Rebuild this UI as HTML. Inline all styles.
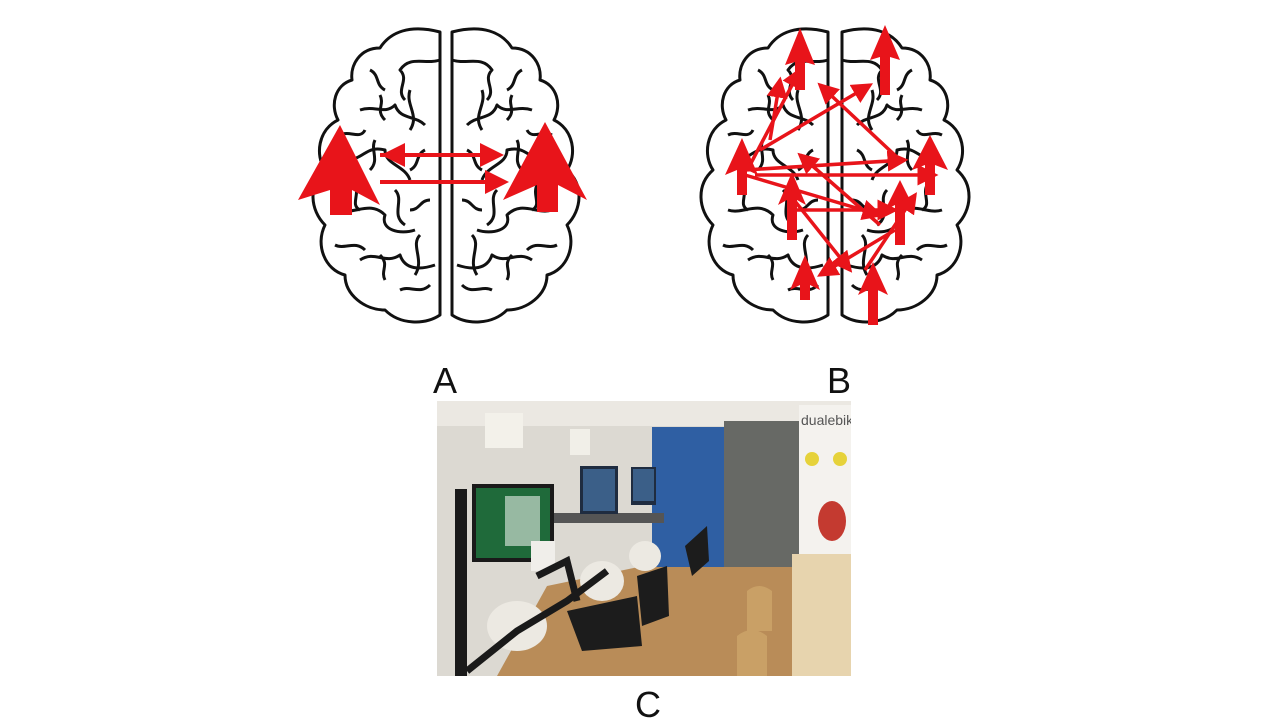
<!DOCTYPE html>
<html><head><style>
body{margin:0;background:#fff;width:1280px;height:720px;overflow:hidden;position:relative;font-family:"Liberation Sans",sans-serif}
.l{position:absolute;font-size:36px;color:#111}
</style></head><body>
<svg width="1280" height="720" style="position:absolute;left:0;top:0">
<defs>
<g id="hemi" fill="#fff" stroke="#111" stroke-width="3" stroke-linejoin="round">
<path d="M140,12 C110,4 90,12 80,28 C60,28 50,45 52,60 C35,65 30,85 38,100 C18,110 15,135 25,150 C8,165 10,190 25,205 C15,225 25,250 45,255 C45,275 65,290 85,290 C100,305 125,305 140,295 Z"/>
<path d="M140,40 c-15,5 -30,-5 -40,10 c10,10 -5,20 5,30 M60,90 c15,-5 25,5 35,-5 c5,15 20,10 30,20 M45,140 c20,0 20,-15 40,-10 c0,15 20,15 25,30 M40,190 c15,5 30,-10 45,5 c-5,15 15,20 30,15 M60,240 c15,-10 25,5 40,-5 c5,15 20,15 35,10 M110,70 c-5,15 10,25 0,40 M95,170 c10,10 -5,25 10,35 M120,215 c-10,10 5,25 -5,40 M75,120 c-5,10 5,20 -5,30 M100,270 c10,-5 20,5 30,-5 M70,50 c10,5 5,15 15,20 M40,115 c10,-5 20,5 25,-5 M55,165 c5,10 -5,20 5,25 M35,225 c10,5 20,-5 30,5 M85,260 c-5,-10 5,-15 -5,-25 M125,130 c-10,5 -5,15 -15,20 M130,180 c-10,0 -10,10 -20,10 M80,75 c5,10 -5,15 5,25" fill="none"/>
</g>
<marker id="ah" markerWidth="6" markerHeight="6" refX="5" refY="3" orient="auto"><path d="M0,0 L6,3 L0,6 Z" fill="#e8141a"/></marker>
<clipPath id="pc"><rect width="414" height="275"/></clipPath>
</defs>
<g transform="translate(300,20)"><use href="#hemi"/></g>
<g transform="translate(592,20) scale(-1,1)"><use href="#hemi"/></g>
<g transform="translate(688,20)"><use href="#hemi"/></g>
<g transform="translate(982,20) scale(-1,1)"><use href="#hemi"/></g>
<g fill="#e8141a">
<polygon points="298,200 340,125 380,205 352,190 352,215 330,215 330,190"/>
<polygon points="503,200 545,122 587,200 558,185 558,212 537,212 537,185"/>
</g>
<g stroke="#e8141a" stroke-width="4" fill="none" marker-end="url(#ah)">
<line x1="500" y1="155" x2="385" y2="155"/>
<line x1="380" y1="182" x2="505" y2="182"/>
<line x1="380" y1="155" x2="500" y2="155"/>
</g>
<g fill="#e8141a">
<polygon points="785,65 800,28 815,65 805,62 805,90 795,90 795,62"/>
<polygon points="870,60 885,25 900,60 890,57 890,95 880,95 880,57"/>
<polygon points="725,175 742,138 758,175 747,170 747,195 737,195 737,170"/>
<polygon points="912,170 930,135 948,170 935,165 935,195 925,195 925,165"/>
<polygon points="778,205 792,172 806,205 797,200 797,240 787,240 787,200"/>
<polygon points="885,210 900,180 915,210 905,205 905,245 895,245 895,205"/>
<polygon points="790,290 805,255 820,290 810,285 810,300 800,300 800,285"/>
<polygon points="858,295 873,262 888,295 878,290 878,325 868,325 868,290"/>
</g>
<g stroke="#e8141a" stroke-width="3.5" fill="none" marker-end="url(#ah)">
<line x1="745" y1="170" x2="905" y2="160"/>
<line x1="755" y1="175" x2="935" y2="175"/>
<line x1="750" y1="165" x2="800" y2="70"/>
<line x1="760" y1="150" x2="870" y2="85"/>
<line x1="900" y1="160" x2="820" y2="85"/>
<line x1="745" y1="175" x2="880" y2="215"/>
<line x1="790" y1="210" x2="895" y2="210"/>
<line x1="895" y1="230" x2="820" y2="275"/>
<line x1="790" y1="195" x2="850" y2="270"/>
<line x1="880" y1="225" x2="800" y2="155"/>
<line x1="865" y1="270" x2="915" y2="195"/>
<line x1="770" y1="140" x2="780" y2="80"/>
</g>
<g transform="translate(437,401)" clip-path="url(#pc)">
<rect width="414" height="275" fill="#dcd9d2"/>
<rect width="414" height="25" fill="#ebe8e2"/>
<polygon points="110,185 230,160 362,160 362,275 60,275" fill="#b98c58"/>
<rect x="215" y="26" width="72" height="140" fill="#2f5fa3"/>
<rect x="287" y="20" width="76" height="146" fill="#676965"/>
<rect x="362" y="4" width="52" height="156" fill="#f4f2ee"/>
<text x="364" y="24" font-size="14" fill="#555">dualebik</text>
<circle cx="375" cy="58" r="7" fill="#e6d23a"/><circle cx="403" cy="58" r="7" fill="#e6d23a"/>
<ellipse cx="395" cy="120" rx="14" ry="20" fill="#c43a30"/>
<rect x="355" y="153" width="59" height="122" fill="#e7d4ae"/>
<rect x="48" y="12" width="38" height="35" fill="#f3f1ea"/>
<rect x="133" y="28" width="20" height="26" fill="#f1efe8"/>
<rect x="117" y="112" width="110" height="10" fill="#555"/>
<rect x="143" y="65" width="38" height="48" fill="#1f2c40"/>
<rect x="146" y="68" width="32" height="42" fill="#3b5f88"/>
<rect x="194" y="66" width="25" height="38" fill="#1f2c40"/>
<rect x="196" y="68" width="21" height="32" fill="#3b5f88"/>
<rect x="18" y="88" width="12" height="187" fill="#1a1a1a"/>
<rect x="35" y="83" width="82" height="78" fill="#1a1a1a"/>
<rect x="39" y="87" width="74" height="70" fill="#1f6a3a"/>
<rect x="68" y="95" width="35" height="50" fill="#e8efe8" opacity="0.6"/>
<rect x="94" y="140" width="24" height="30" fill="#f0eeea"/>
<ellipse cx="80" cy="225" rx="30" ry="25" fill="#ece9e2"/>
<ellipse cx="165" cy="180" rx="22" ry="20" fill="#ece9e2"/>
<ellipse cx="208" cy="155" rx="16" ry="15" fill="#ece9e2"/>
<path d="M30,270 L80,230 L130,200 L170,170 M100,175 L130,160 L140,200" stroke="#1a1a1a" stroke-width="7" fill="none"/>
<polygon points="130,210 200,195 205,245 145,250" fill="#1c1c1c"/>
<polygon points="200,175 230,165 232,215 205,225" fill="#1c1c1c"/>
<polygon points="248,145 270,125 272,160 255,175" fill="#1c1c1c"/>
<path d="M310,190 q12,-10 25,0 l0,40 l-25,0 z M300,235 q15,-12 30,0 l0,45 l-30,0 z" fill="#c9a066"/>
</g>
</svg>
<div class="l" style="left:433px;top:360px">A</div>
<div class="l" style="left:827px;top:360px">B</div>
<div class="l" style="left:635px;top:684px">C</div>
</body></html>
